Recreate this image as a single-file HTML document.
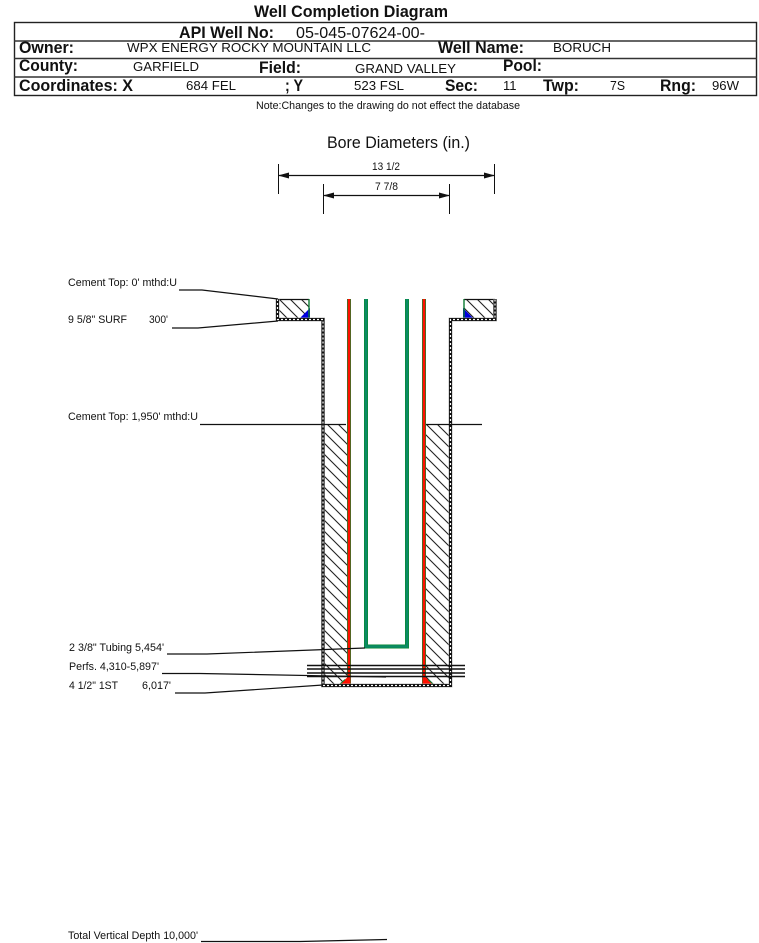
<!DOCTYPE html>
<html><head><meta charset="utf-8"><style>
html,body{margin:0;padding:0;background:#fff}
svg{display:block}
text{font-family:"Liberation Sans",sans-serif;fill:#111}
.h{font-weight:bold;font-size:17px}
.v{font-size:13px}
.s{font-size:11px}
</style></head><body>
<svg width="759" height="943" viewBox="0 0 759 943" xmlns="http://www.w3.org/2000/svg">
<defs>
<pattern id="hatch" patternUnits="userSpaceOnUse" width="11" height="11" patternTransform="translate(2,0)">
<path d="M-2,-2 L13,13 M-2,9 L2,13 M9,-2 L13,2" stroke="#222" stroke-width="1.1" fill="none"/>
</pattern>
<marker id="a1" markerWidth="11" markerHeight="6" refX="10" refY="3" orient="auto" markerUnits="userSpaceOnUse"><path d="M0,0 L11,3 L0,6Z" fill="#111"/></marker>
<marker id="a2" markerWidth="11" markerHeight="6" refX="1" refY="3" orient="auto" markerUnits="userSpaceOnUse"><path d="M11,0 L0,3 L11,6Z" fill="#111"/></marker>
</defs>

<text class="h" x="254" y="17" textLength="194" lengthAdjust="spacingAndGlyphs">Well Completion Diagram</text>
<rect x="14.5" y="22.5" width="742" height="73" fill="none" stroke="#222" stroke-width="1.4"/>
<path d="M14,41H757M14,58.5H757M14,77H757" stroke="#333" stroke-width="1.4" fill="none"/>

<text class="h" x="179" y="38" textLength="95" lengthAdjust="spacingAndGlyphs">API Well No:</text>
<text x="296" y="38" font-size="16" textLength="129" lengthAdjust="spacingAndGlyphs">05-045-07624-00-</text>
<text class="h" x="19" y="53" textLength="55" lengthAdjust="spacingAndGlyphs">Owner:</text>
<text class="v" x="127" y="52" textLength="244" lengthAdjust="spacingAndGlyphs">WPX ENERGY ROCKY MOUNTAIN LLC</text>
<text class="h" x="438" y="53" textLength="86" lengthAdjust="spacingAndGlyphs">Well Name:</text>
<text class="v" x="553" y="52" textLength="58" lengthAdjust="spacingAndGlyphs">BORUCH</text>
<text class="h" x="19" y="71" textLength="59" lengthAdjust="spacingAndGlyphs">County:</text>
<text class="v" x="133" y="71" textLength="66" lengthAdjust="spacingAndGlyphs">GARFIELD</text>
<text class="h" x="259" y="73" textLength="42" lengthAdjust="spacingAndGlyphs">Field:</text>
<text class="v" x="355" y="73" textLength="101" lengthAdjust="spacingAndGlyphs">GRAND VALLEY</text>
<text class="h" x="503" y="71" textLength="39" lengthAdjust="spacingAndGlyphs">Pool:</text>
<text class="h" x="19" y="91" textLength="114" lengthAdjust="spacingAndGlyphs">Coordinates: X</text>
<text class="v" x="186" y="90" textLength="50" lengthAdjust="spacingAndGlyphs">684 FEL</text>
<text class="h" x="285" y="91" textLength="18" lengthAdjust="spacingAndGlyphs">; Y</text>
<text class="v" x="354" y="90" textLength="50" lengthAdjust="spacingAndGlyphs">523 FSL</text>
<text class="h" x="445" y="91" textLength="33" lengthAdjust="spacingAndGlyphs">Sec:</text>
<text class="v" x="503" y="90" font-size="12">11</text>
<text class="h" x="543" y="91" textLength="36" lengthAdjust="spacingAndGlyphs">Twp:</text>
<text class="v" x="610" y="90" textLength="15" lengthAdjust="spacingAndGlyphs">7S</text>
<text class="h" x="660" y="91" textLength="36" lengthAdjust="spacingAndGlyphs">Rng:</text>
<text class="v" x="712" y="90" textLength="27" lengthAdjust="spacingAndGlyphs">96W</text>
<text class="s" x="256" y="109" textLength="264" lengthAdjust="spacingAndGlyphs">Note:Changes to the drawing do not effect the database</text>

<text x="327" y="148" font-size="17" textLength="143" lengthAdjust="spacingAndGlyphs">Bore Diameters (in.)</text>
<text class="s" x="372" y="170" textLength="28" lengthAdjust="spacingAndGlyphs">13 1/2</text>
<text class="s" x="375" y="190" textLength="23" lengthAdjust="spacingAndGlyphs">7 7/8</text>
<path d="M278.5,164V194M494.5,164V194M323.5,184V214M449.5,184V214" stroke="#111" stroke-width="1" fill="none"/>
<line x1="279" y1="175.5" x2="494" y2="175.5" stroke="#111" stroke-width="1.2" marker-start="url(#a2)" marker-end="url(#a1)"/>
<line x1="324" y1="195.5" x2="449" y2="195.5" stroke="#111" stroke-width="1.2" marker-start="url(#a2)" marker-end="url(#a1)"/>

<!-- cement -->
<rect x="278" y="299" width="31" height="20" fill="url(#hatch)"/>
<rect x="464" y="299" width="31" height="20" fill="url(#hatch)"/>
<rect x="323" y="424" width="24" height="261" fill="url(#hatch)"/>
<rect x="426" y="424" width="24" height="261" fill="url(#hatch)"/>
<path d="M278,299.5H309M464,299.5H495" stroke="#111" stroke-width="1.3"/>
<path d="M310,308L310,319L299,319Z M463,308L463,319L474,319Z" fill="#0000e0"/>
<path d="M309,299V319M464,299V319" stroke="#0a7a30" stroke-width="1.4"/>

<!-- pipes -->
<path d="M349,299V685M424,299V685" stroke="#0a8a30" stroke-width="4" fill="none"/>
<path d="M349,299V685M424,299V685" stroke="#ff1000" stroke-width="2.6" fill="none"/>
<path d="M366,299V646.5H407V299" stroke="#0a8a30" stroke-width="4" fill="none"/>
<path d="M366,299V646.5H407V299" stroke="#0b8a66" stroke-width="2.6" fill="none"/>
<path d="M350.5,675V685H338Z M422.5,675V685H435Z" fill="#ff1000"/>
<path d="M345,679.5L339,685M428,679.5L434,685" stroke="#0a8a30" stroke-width="1"/>

<!-- casing -->
<path d="M277.5,299V319.5H323V685.5H450.5V319.5H495V299" fill="none" stroke="#aaa" stroke-width="3.8"/>
<path d="M277.5,299V319.5H323V685.5H450.5V319.5H495V299" fill="none" stroke="#111" stroke-width="3"/>
<path d="M277.5,299V319.5H323V685.5H450.5V319.5H495V299" fill="none" stroke="#fff" stroke-width="1.2" stroke-dasharray="2 2"/>

<!-- leaders -->
<g fill="none" stroke="#111" stroke-width="1.2">
<path d="M179,290H202L278,299"/>
<path d="M172,328H198L278,321"/>
<path d="M200,424.5H346M426,424.5H482"/>
<path d="M167,654H207L365,648"/>
<path d="M162,673.5H200L386,677"/>
<path d="M175,693H205L323,685"/>
<path d="M201,941.5H300L387,939.5"/>
<path d="M307,665.5H465M307,669H465M307,673H465M307,676.5H465" stroke-width="1.5"/>
</g>

<text class="s" x="68" y="286" textLength="109" lengthAdjust="spacingAndGlyphs">Cement Top: 0' mthd:U</text>
<text class="s" x="68" y="323" textLength="59" lengthAdjust="spacingAndGlyphs">9 5/8" SURF</text>
<text class="s" x="149" y="323" textLength="19" lengthAdjust="spacingAndGlyphs">300'</text>
<text class="s" x="68" y="420" textLength="130" lengthAdjust="spacingAndGlyphs">Cement Top: 1,950' mthd:U</text>
<text class="s" x="69" y="651" textLength="95" lengthAdjust="spacingAndGlyphs">2 3/8" Tubing 5,454'</text>
<text class="s" x="69" y="670" textLength="90" lengthAdjust="spacingAndGlyphs">Perfs. 4,310-5,897'</text>
<text class="s" x="69" y="689" textLength="49" lengthAdjust="spacingAndGlyphs">4 1/2" 1ST</text>
<text class="s" x="142" y="689" textLength="29" lengthAdjust="spacingAndGlyphs">6,017'</text>
<text class="s" x="68" y="939" textLength="130" lengthAdjust="spacingAndGlyphs">Total Vertical Depth 10,000'</text>
</svg>
</body></html>
